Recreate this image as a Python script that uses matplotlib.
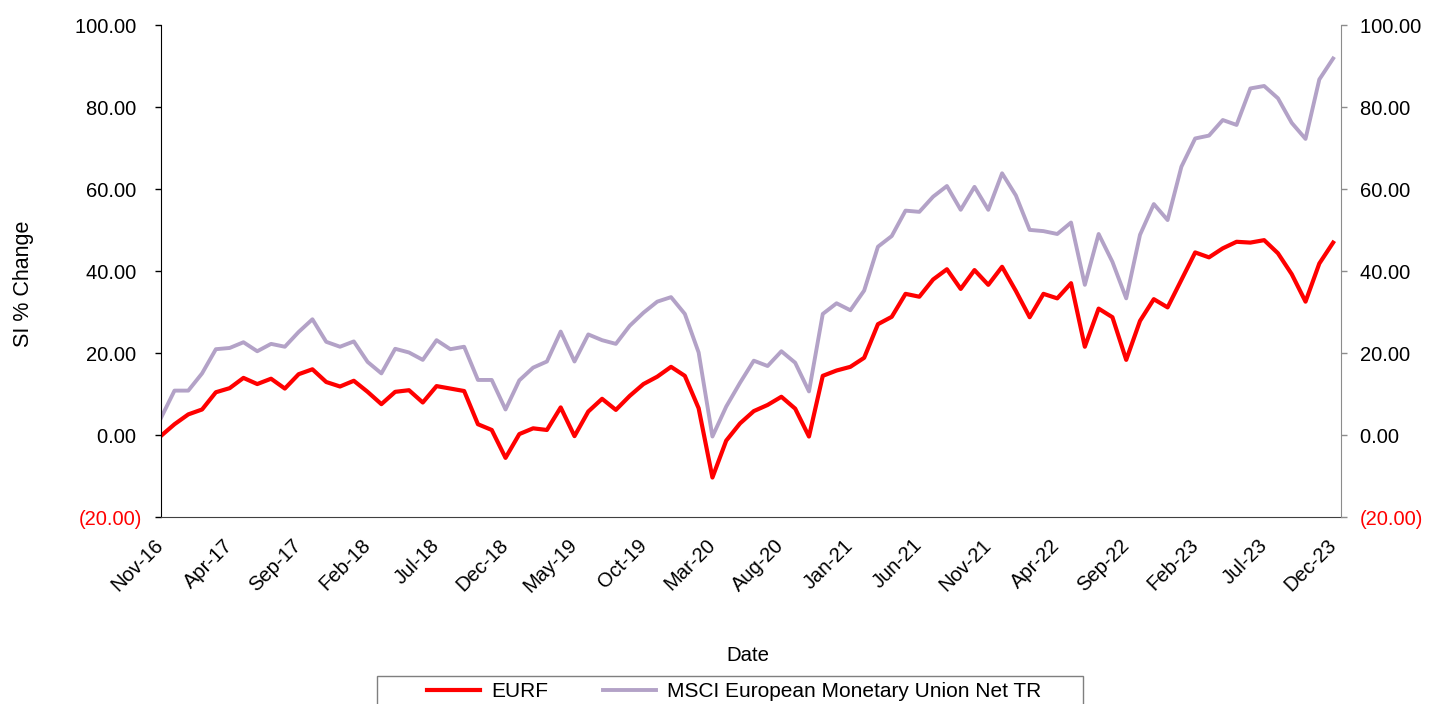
import numpy as np
import pandas as pd
import matplotlib
matplotlib.use("Agg")
import matplotlib.pyplot as plt
from matplotlib.lines import Line2D
from matplotlib.patches import Rectangle
from matplotlib.ticker import FuncFormatter

plt.rcParams['font.family'] = ['Liberation Sans', 'DejaVu Sans']

# monthly points, Nov-16 .. Dec-23
months = pd.date_range("2016-11-01", "2023-12-01", freq="MS").strftime("%b-%y").tolist()

eurf = [-0.2, 2.7, 5.1, 6.3, 10.5, 11.5, 14.0, 12.5, 13.8, 11.4,
        14.9, 16.1, 13.0, 11.9, 13.3, 10.6, 7.6, 10.6, 11.0, 8.0,
        12.0, 11.4, 10.8, 2.7, 1.3, -5.5, 0.3, 1.7, 1.3, 6.8,
        -0.2, 5.8, 8.9, 6.2, 9.6, 12.5, 14.3, 16.7, 14.5, 6.6,
        -10.3, -1.3, 2.9, 5.9, 7.4, 9.4, 6.5, -0.3, 14.5, 15.8,
        16.7, 18.9, 27.1, 28.9, 34.5, 33.8, 38.0, 40.5, 35.7, 40.3,
        36.7, 41.1, 35.2, 28.8, 34.5, 33.4, 37.1, 21.6, 30.9, 28.8,
        18.4, 27.9, 33.2, 31.2, 37.9, 44.6, 43.4, 45.6, 47.2, 47.0,
        47.6, 44.4, 39.3, 32.6, 41.9, 47.0]

msci = [4.1, 10.9, 10.9, 15.1, 21.0, 21.3, 22.7, 20.5, 22.3, 21.6,
        25.2, 28.3, 22.8, 21.6, 22.9, 17.9, 15.1, 21.1, 20.2, 18.4,
        23.2, 21.0, 21.6, 13.5, 13.5, 6.3, 13.4, 16.5, 18.0, 25.3,
        18.0, 24.6, 23.2, 22.3, 26.7, 29.9, 32.6, 33.7, 29.6, 20.2,
        -0.3, 7.0, 12.8, 18.2, 16.9, 20.5, 17.7, 10.7, 29.6, 32.2,
        30.5, 35.3, 46.0, 48.6, 54.8, 54.5, 58.2, 60.8, 55.0, 60.6,
        55.0, 63.9, 58.5, 50.1, 49.8, 49.1, 51.9, 36.7, 49.1, 42.3,
        33.4, 48.9, 56.4, 52.5, 65.5, 72.4, 73.1, 76.9, 75.7, 84.6,
        85.2, 82.2, 76.2, 72.3, 86.8, 91.9]

yticks = [-20, 0, 20, 40, 60, 80, 100]

RED = '#FF0000'
PURPLE = '#B3A2C7'
W, H = 1429, 704

fig = plt.figure(figsize=(W / 100, H / 100), dpi=100)
ax = fig.add_axes([160.7 / W, 1 - 517.3 / H, 1180 / W, 492 / H])

x = np.arange(len(months))
ax.plot(x, eurf, color=RED, lw=3.0, label='EURF')
ax.plot(x, msci, color=PURPLE, lw=2.8, label='MSCI European Monetary Union Net TR')

ax.set_xlim(0, 85.55)
ax.set_ylim(-20, 100)


# accounting style: negatives in brackets, positives keep a trailing gap
def fmt(v, pos):
    if v < 0:
        return f"({abs(v):,.2f})"
    return f"{v:,.2f} "


ax2 = ax.twinx()
ax2.set_ylim(ax.get_ylim())
for a in (ax, ax2):
    a.set_yticks(yticks)
    a.yaxis.set_major_formatter(FuncFormatter(fmt))
    a.tick_params(axis='y', labelsize=14.5, length=4.2, width=1, pad=9.4)
    for sp in a.spines.values():
        sp.set_visible(False)
    for lab in a.get_yticklabels():
        lab.set_color(RED if lab.get_text().startswith('(') else 'black')

ax.spines['left'].set_visible(True)
ax.spines['left'].set_color('black')
ax.spines['bottom'].set_visible(True)
ax.spines['bottom'].set_color('#404040')
ax2.spines['right'].set_visible(True)
ax2.spines['right'].set_color('#8c8c8c')
ax2.tick_params(axis='y', color='#8c8c8c')
ax.tick_params(axis='y', color='black')

ax.set_xticks(x[::5])
ax.set_xticklabels(months[::5], rotation=45, ha='right', va='center',
                   rotation_mode='anchor', fontsize=14.5)
ax.tick_params(axis='x', length=0, pad=18)

ax.set_xlabel('Date', fontsize=14.7, va='center')
ax.xaxis.set_label_coords(0.498, -0.280)
ax.set_ylabel('SI % Change', fontsize=15.5, va='center')
ax.yaxis.set_label_coords(-0.1165, 0.474)

# legend, framed box runs off the bottom of the image
fs = 15
fs_px = fs * 100 / 72
handles = [Line2D([], [], color=RED, lw=3.0), Line2D([], [], color=PURPLE, lw=2.8)]
fig.legend(handles, ['EURF', 'MSCI European Monetary Union Net TR'],
           ncol=2, frameon=False, fontsize=fs, loc='center left',
           bbox_to_anchor=(426.7 / W, 1 - 691.7 / H),
           borderpad=0, borderaxespad=0, handlelength=53.3 / fs_px,
           handletextpad=11 / fs_px, columnspacing=54.6 / fs_px)
fig.patches.append(Rectangle((376.7 / W, -0.05), (1083 - 376.7) / W, 1 - 675.7 / H + 0.05,
                             transform=fig.transFigure, fill=False,
                             edgecolor='#7f7f7f', lw=1))

fig.savefig('out.png', dpi=100)
